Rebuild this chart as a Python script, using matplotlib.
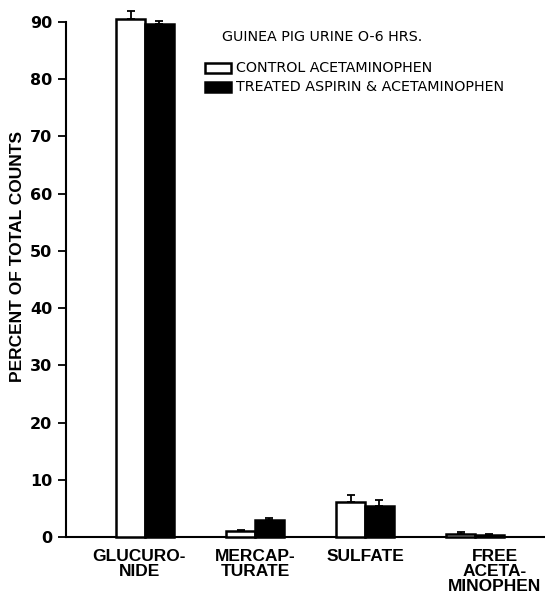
import matplotlib.pyplot as plt
from matplotlib.patches import Rectangle
import numpy as np

# metabolite categories and bar values (percent of total counts)
categories = ["GLUCURO-\nNIDE", "MERCAP-\nTURATE", "SULFATE", "FREE\nACETA-\nMINOPHEN"]
control = [90.6, 1.0, 6.1, 0.6]
control_err = [1.3, 0.3, 1.3, 0.3]
treated = [89.6, 2.9, 5.5, 0.3]
treated_err = [0.6, 0.5, 0.9, 0.15]

title = "GUINEA PIG URINE O-6 HRS."
series_names = ["CONTROL ACETAMINOPHEN", "TREATED ASPIRIN & ACETAMINOPHEN"]
y_ticks = [0, 10, 20, 30, 40, 50, 60, 70, 80, 90]

W, H = 545, 598


def fig_xy(px, py):
    # pixel position (from top-left) to figure fraction
    return px / W, 1 - py / H


def main():
    plt.rcParams["font.family"] = ["DejaVu Sans"]
    fig = plt.figure(figsize=(W / 100, H / 100), dpi=100)
    axis = fig.add_axes([66 / W, 1 - 537 / H, 1 - 66 / W, (537 - 22) / H])

    x = np.arange(len(categories))
    width = 0.26
    # white bars with black edges and black bars, errors only upward
    axis.bar(x - width / 2, control, width, color="white", edgecolor="black",
             linewidth=1.8, clip_on=False, zorder=3)
    axis.bar(x + width / 2, treated, width, color="black", edgecolor="black",
             linewidth=1.8, clip_on=False, zorder=3)
    zeros = np.zeros(len(categories))
    axis.errorbar(x - width / 2, control, yerr=[zeros, control_err], fmt="none",
                  ecolor="black", elinewidth=1.3, capsize=3, capthick=1.3, clip_on=False, zorder=4)
    axis.errorbar(x + width / 2, treated, yerr=[zeros, treated_err], fmt="none",
                  ecolor="black", elinewidth=1.3, capsize=3, capthick=1.3, clip_on=False, zorder=4)

    axis.set_xlim(-0.718, 3.636)
    axis.set_ylim(0, 90)
    axis.set_yticks(y_ticks)
    axis.set_yticklabels([str(t) for t in y_ticks], fontsize=11.5, fontweight="bold")
    axis.tick_params(axis="y", direction="out", length=6, width=1.3, pad=4)
    axis.set_xticks([])
    for side in ["top", "right"]:
        axis.spines[side].set_visible(False)
    for side in ["left", "bottom"]:
        axis.spines[side].set_linewidth(1.5)

    axis.set_ylabel("PERCENT OF TOTAL COUNTS", fontsize=12.5, fontweight="bold",
                    family="Liberation Sans")
    axis.yaxis.set_label_coords(-41 / 479, (537 - 257) / 515)

    # category labels under each group, last one shifted right as in the original
    shifts = [-0.05, 0.0, 0.0, 0.18]
    for i, label in enumerate(categories):
        axis.text(x[i] + shifts[i], -2.1, label, ha="center", va="top", fontsize=12.5,
                  fontweight="bold", linespacing=0.98, family="Liberation Sans")

    # title and hand drawn legend
    fig.text(*fig_xy(222, 37), title, fontsize=10.3, va="center", ha="left")
    colors = ["white", "black"]
    rows = [68, 87]
    for name, color, row in zip(series_names, colors, rows):
        x0, y0 = fig_xy(205, row + 5)
        fig.patches.append(Rectangle((x0, y0), 26 / W, 10 / H, transform=fig.transFigure,
                                     facecolor=color, edgecolor="black", linewidth=1.8))
        fig.text(*fig_xy(236, row), name, fontsize=10.3, va="center", ha="left")

    fig.savefig("out.png", dpi=100)


if __name__ == "__main__":
    main()
